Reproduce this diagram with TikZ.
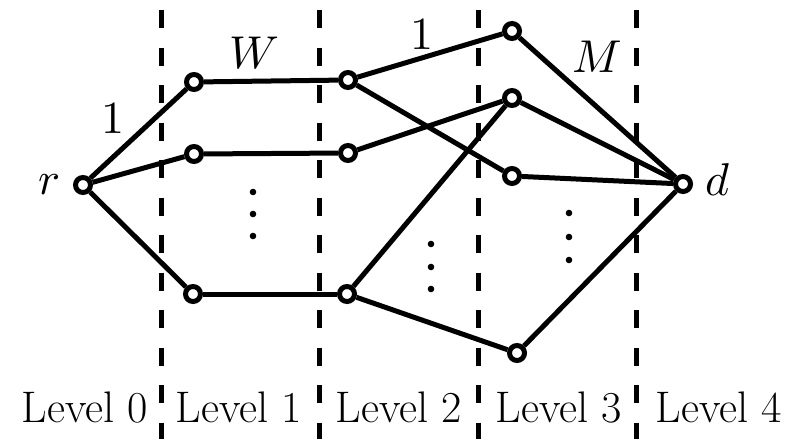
\documentclass[tikz,border=0pt]{standalone}
\usepackage{unicode-math}
\setmathfont{Latin Modern Math}
\begin{document}
\begin{tikzpicture}[x=1pt,y=-1pt,
  vertex/.style={circle, draw, line width=5pt, fill=white, minimum size=15pt, inner sep=0pt},
  edge/.style={line width=5pt},
  levelsep/.style={line width=5pt, dash pattern=on 18pt off 19.5pt},
  lbl/.style={font=\fontsize{46}{55}\selectfont, inner sep=0pt},
  levelname/.style={font=\rmfamily\fontsize{44.2}{53}\selectfont, inner sep=0pt, anchor=base},
  vdot/.style={fill=black}]
  \useasboundingbox (0,0) rectangle (796,439);

  % level names along the bottom
  \node[levelname] (lev0) at (85,422)  {Level 0};
  \node[levelname] (lev1) at (239,422) {Level 1};
  \node[levelname] (lev2) at (399,422) {Level 2};
  \node[levelname] (lev3) at (559,422) {Level 3};
  \node[levelname] (lev4) at (719,422) {Level 4};

  % level separators
  \foreach \x [count=\i] in {161,319.5,478,636.5}
    \coordinate (sepTop\i) at (\x,10);
  \foreach \x [count=\i] in {161,319.5,478,636.5}
    \coordinate (sepBot\i) at (\x,439);
  \foreach \i in {1,...,4}
    \draw[levelsep] (sepTop\i) -- (sepBot\i);

  % vertices
  \node[vertex] (r)   at (83,185)  {};
  \node[vertex] (a1)  at (194,82)  {};
  \node[vertex] (b1)  at (194,154) {};
  \node[vertex] (c1)  at (193,294) {};
  \node[vertex] (a2)  at (348,80)  {};
  \node[vertex] (b2)  at (348,153) {};
  \node[vertex] (c2)  at (347,294) {};
  \node[vertex] (a3)  at (512,31)  {};
  \node[vertex] (b3)  at (512,98)  {};
  \node[vertex] (c3)  at (512,176) {};
  \node[vertex] (e3)  at (517,353) {};
  \node[vertex] (d)   at (683,184) {};

  % edges
  \draw[edge] (r) -- (a1);
  \draw[edge] (r) -- (b1);
  \draw[edge] (r) -- (c1);
  \draw[edge] (a1) -- (a2);
  \draw[edge] (b1) -- (b2);
  \draw[edge] (c1) -- (c2);
  \draw[edge] (a2) -- (a3);
  \draw[edge] (a2) -- (c3);
  \draw[edge] (b2) -- (b3);
  \draw[edge] (c2) -- (b3);
  \draw[edge] (c2) -- (e3);
  \draw[edge] (a3) -- (d);
  \draw[edge] (b3) -- (d);
  \draw[edge] (c3) -- (d);
  \draw[edge] (e3) -- (d);

  % vertical ellipses
  \foreach \y in {192,214,236} \fill[vdot] (253,\y) circle (3.3pt);
  \foreach \y in {244,267,289} \fill[vdot] (431,\y) circle (3.3pt);
  \foreach \y in {213,237,260} \fill[vdot] (569,\y) circle (3.3pt);

  % labels
  \node[lbl] (lr) at (49,185)  {$r$};
  \node[lbl] (ld) at (718,180) {$d$};
  \node[lbl] (l1a) at (113,118) {$1$};
  \node[lbl] (lW) at (254,53)  {$W$};
  \node[lbl] (l1b) at (422,34) {$1$};
  \node[lbl] (lM) at (597,57)  {$M$};
\end{tikzpicture}
\end{document}
